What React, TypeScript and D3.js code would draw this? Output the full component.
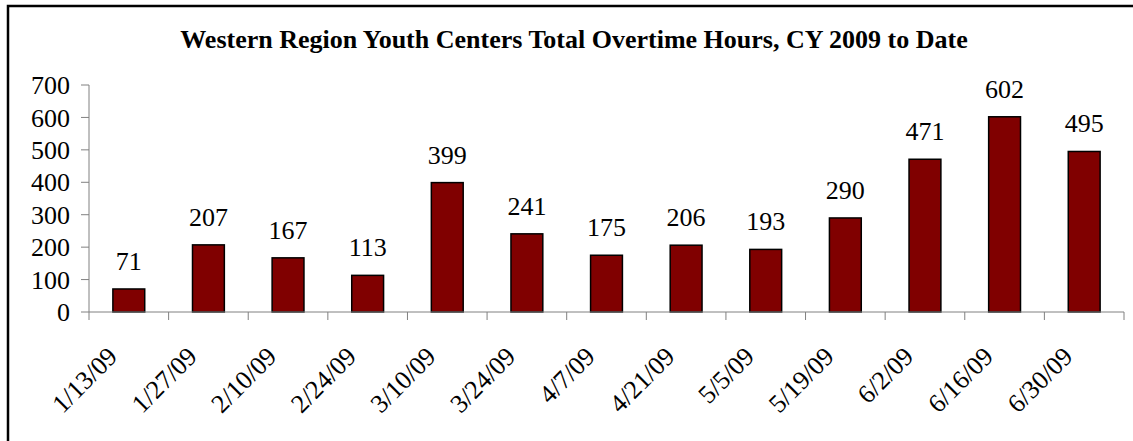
import React, { useEffect, useRef } from 'react';
import * as d3 from 'd3';

// pay period end dates and overtime hours for each
const dates = ['1/13/09', '1/27/09', '2/10/09', '2/24/09', '3/10/09', '3/24/09', '4/7/09',
    '4/21/09', '5/5/09', '5/19/09', '6/2/09', '6/16/09', '6/30/09'];
const hours = [71, 207, 167, 113, 399, 241, 175, 206, 193, 290, 471, 602, 495];
const yTicks = [0, 100, 200, 300, 400, 500, 600, 700];

const title = 'Western Region Youth Centers Total Overtime Hours, CY 2009 to Date';
const font = '"Liberation Serif", "Times New Roman", serif';

export default function App() {
    const ref = useRef<SVGSVGElement>(null);

    useEffect(() => {
        document.body.style.margin = '0';
        const svg = d3.select(ref.current);
        svg.selectAll('*').remove();

        const left = 89, right = 1124, top = 85, bottom = 312;

        const x = d3.scaleBand().domain(dates).range([left, right])
            .paddingInner(0.6).paddingOuter(0.3);
        const y = d3.scaleLinear().domain([0, 700]).range([bottom, top]);

        // outer frame, runs off the right and bottom of the picture
        svg.append('rect')
            .attr('x', 8).attr('y', 6)
            .attr('width', 1140).attr('height', 450)
            .attr('fill', 'white').attr('stroke', 'black').attr('stroke-width', 2.5);

        svg.append('text')
            .attr('x', 574).attr('y', 48)
            .attr('text-anchor', 'middle')
            .style('font-family', font).style('font-weight', 'bold').style('font-size', '26px')
            .text(title);

        // y axis
        const yAxis = svg.append('g');
        yAxis.append('line')
            .attr('x1', left).attr('x2', left).attr('y1', y(0)).attr('y2', y(700))
            .attr('stroke', '#808080');
        yAxis.selectAll('line.tick').data(yTicks).enter().append('line')
            .attr('class', 'tick')
            .attr('x1', left - 8).attr('x2', left)
            .attr('y1', (d) => y(d)).attr('y2', (d) => y(d))
            .attr('stroke', '#808080');
        yAxis.selectAll('text').data(yTicks).enter().append('text')
            .attr('x', left - 19).attr('y', (d) => y(d))
            .attr('dy', '0.35em').attr('text-anchor', 'end')
            .style('font-family', font).style('font-size', '26px')
            .text((d) => d);

        // bars
        svg.selectAll('rect.bar').data(hours).enter().append('rect')
            .attr('class', 'bar')
            .attr('x', (d, i) => x(dates[i]))
            .attr('y', (d) => y(d))
            .attr('width', x.bandwidth())
            .attr('height', (d) => y(0) - y(d))
            .attr('fill', '#800000').attr('stroke', 'black').attr('stroke-width', 1.5);

        // value labels over each bar
        svg.selectAll('text.value').data(hours).enter().append('text')
            .attr('class', 'value')
            .attr('x', (d, i) => x(dates[i]) + x.bandwidth() / 2)
            .attr('y', (d) => y(d) - 19)
            .attr('text-anchor', 'middle')
            .style('font-family', font).style('font-size', '26px')
            .text((d) => d);

        // x axis with ticks between categories
        const step = x.step();
        const bounds = d3.range(dates.length + 1).map((i) => left + i * step);
        const xAxis = svg.append('g');
        xAxis.append('line')
            .attr('x1', left).attr('x2', right).attr('y1', y(0)).attr('y2', y(0))
            .attr('stroke', '#808080');
        xAxis.selectAll('line.tick').data(bounds).enter().append('line')
            .attr('class', 'tick')
            .attr('x1', (d) => d).attr('x2', (d) => d)
            .attr('y1', y(0)).attr('y2', y(0) + 8)
            .attr('stroke', '#808080');
        xAxis.selectAll('text').data(dates).enter().append('text')
            .attr('transform', (d) => `translate(${x(d) + x.bandwidth() / 2 - 10}, ${y(0) + 46}) rotate(-45)`)
            .attr('text-anchor', 'end')
            .style('font-family', font).style('font-size', '26px')
            .text((d) => d);
    }, []);

    return <svg ref={ref} width={1133} height={441} style={{ display: 'block' }} />;
}
